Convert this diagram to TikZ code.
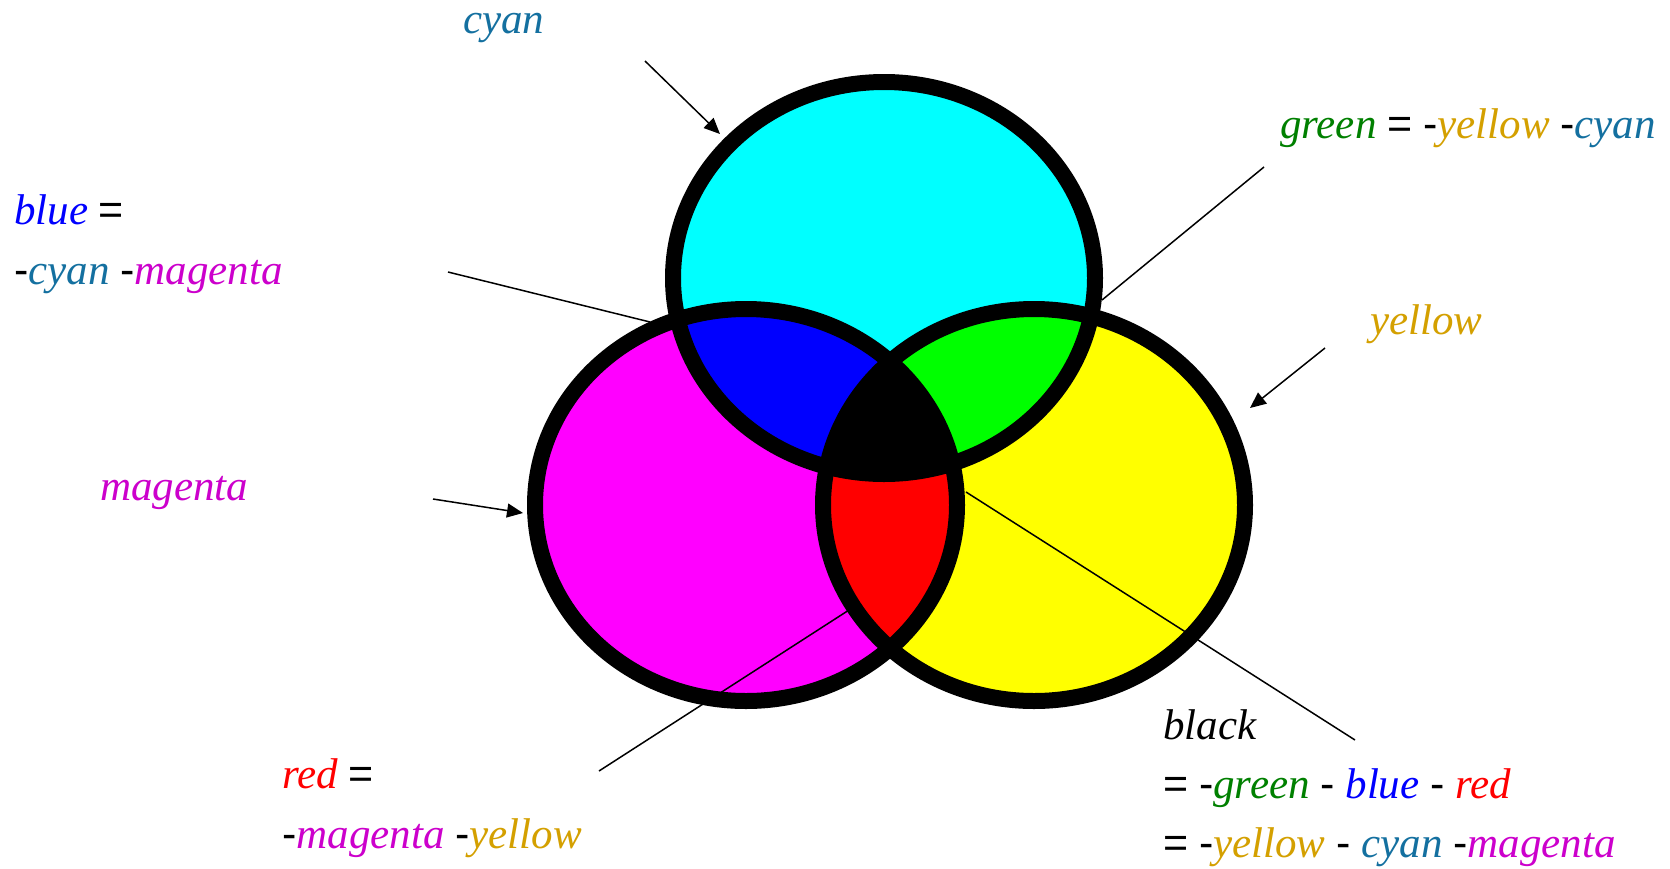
\documentclass[tikz,border=0pt]{standalone}
\usepackage{fontspec}
\setmainfont{Liberation Serif}
\newfontfamily\symsans{Liberation Sans}
\usetikzlibrary{arrows.meta}
\definecolor{tcyan}{RGB}{20,112,160}
\definecolor{tyellow}{RGB}{212,160,0}
\definecolor{tmagenta}{RGB}{204,0,204}
\definecolor{tgreen}{RGB}{0,128,0}
\definecolor{tblue}{RGB}{0,0,255}
\definecolor{tred}{RGB}{255,0,0}
\definecolor{fcyan}{RGB}{0,255,255}
\definecolor{fmagenta}{RGB}{255,0,255}
\definecolor{fyellow}{RGB}{255,255,0}
\definecolor{fgreen}{RGB}{0,255,0}
\definecolor{fblue}{RGB}{0,0,255}
\definecolor{fred}{RGB}{255,0,0}
\newcommand{\ci}[2]{\textcolor{#1}{\itshape #2}}
\newcommand{\eqs}{{\symsans =}}
\newcommand{\mis}{{\symsans -}}
\begin{document}
\begin{tikzpicture}[x=1pt,y=-1pt,
  lbl/.style={anchor=base west,inner sep=0pt,font=\fontsize{43}{50}\selectfont},
  ring/.style={draw=black,line width=16pt},
  conn/.style={draw=black,line width=1.5pt},
  arr/.style={conn,-{Triangle[length=16pt,width=14pt]}},
  ell/.style={x radius=211pt,y radius=196pt}]
\useasboundingbox (0,0) rectangle (1670,868);
\fill[white] (0,0) rectangle (1670,868);
\coordinate (C) at (884,278);
\coordinate (M) at (746,505);
\coordinate (Y) at (1034,505);
% fills
\fill[fmagenta] (M) ellipse [ell];
\fill[fyellow] (Y) ellipse [ell];
\fill[fcyan] (C) ellipse [ell];
\begin{scope}
  \clip (C) ellipse [ell];
  \fill[fblue] (M) ellipse [ell];
  \fill[fgreen] (Y) ellipse [ell];
\end{scope}
\begin{scope}
  \clip (M) ellipse [ell];
  \fill[fred] (Y) ellipse [ell];
\end{scope}
\begin{scope}
  \clip (C) ellipse [ell];
  \clip (M) ellipse [ell];
  \fill[black] (Y) ellipse [ell];
\end{scope}
% outlines
\draw[ring] (C) ellipse [ell];
\draw[ring] (M) ellipse [ell];
\draw[ring] (Y) ellipse [ell];
% labels
\node[lbl] (cyanL) at (463,33) {\ci{tcyan}{cyan}};
\node[lbl] (blueL1) at (14,224) {\ci{tblue}{blue} \eqs};
\node[lbl] (blueL2) at (14,284) {\mis\ci{tcyan}{cyan} \mis\ci{tmagenta}{magenta}};
\node[lbl] (magL) at (100,500) {\ci{tmagenta}{magenta}};
\node[lbl] (greenL) at (1280,138) {\ci{tgreen}{green} \eqs{} \mis\ci{tyellow}{yellow} \mis\ci{tcyan}{cyan}};
\node[lbl] (yelL) at (1370,334) {\ci{tyellow}{yellow}};
\node[lbl] (redL1) at (282,788) {\ci{tred}{red} \eqs};
\node[lbl] (redL2) at (282,848) {\mis\ci{tmagenta}{magenta} \mis\ci{tyellow}{yellow}};
\node[lbl] (blackL1) at (1163,739) {\ci{black}{black}};
\node[lbl] (blackL2) at (1163,798) {\eqs{} \mis\ci{tgreen}{green} \mis{} \ci{tblue}{blue} \mis{} \ci{tred}{red}};
\node[lbl] (blackL3) at (1163,857) {\eqs{} \mis\ci{tyellow}{yellow} \mis{} \ci{tcyan}{cyan} \mis\ci{tmagenta}{magenta}};
% connector ends
\coordinate (cyanS) at (645,61);   \coordinate (cyanE) at (720,134);
\coordinate (magS) at (433,499);   \coordinate (magE) at (523,513);
\coordinate (yelS) at (1325,348);  \coordinate (yelE) at (1250,408);
\coordinate (blueS) at (448,272);  \coordinate (blueE) at (650,322);
\coordinate (greenS) at (1264,167); \coordinate (greenE) at (1102,300);
\coordinate (redS) at (599,771);   \coordinate (redE) at (849,610);
\coordinate (blackS) at (1355,740); \coordinate (blackE) at (966,492);
% connectors
\draw[arr] (cyanS) -- (cyanE);
\draw[arr] (magS) -- (magE);
\draw[arr] (yelS) -- (yelE);
\draw[conn] (blueS) -- (blueE);
\draw[conn] (greenS) -- (greenE);
\draw[conn] (redS) -- (redE);
\draw[conn] (blackS) -- (blackE);
\end{tikzpicture}
\end{document}
